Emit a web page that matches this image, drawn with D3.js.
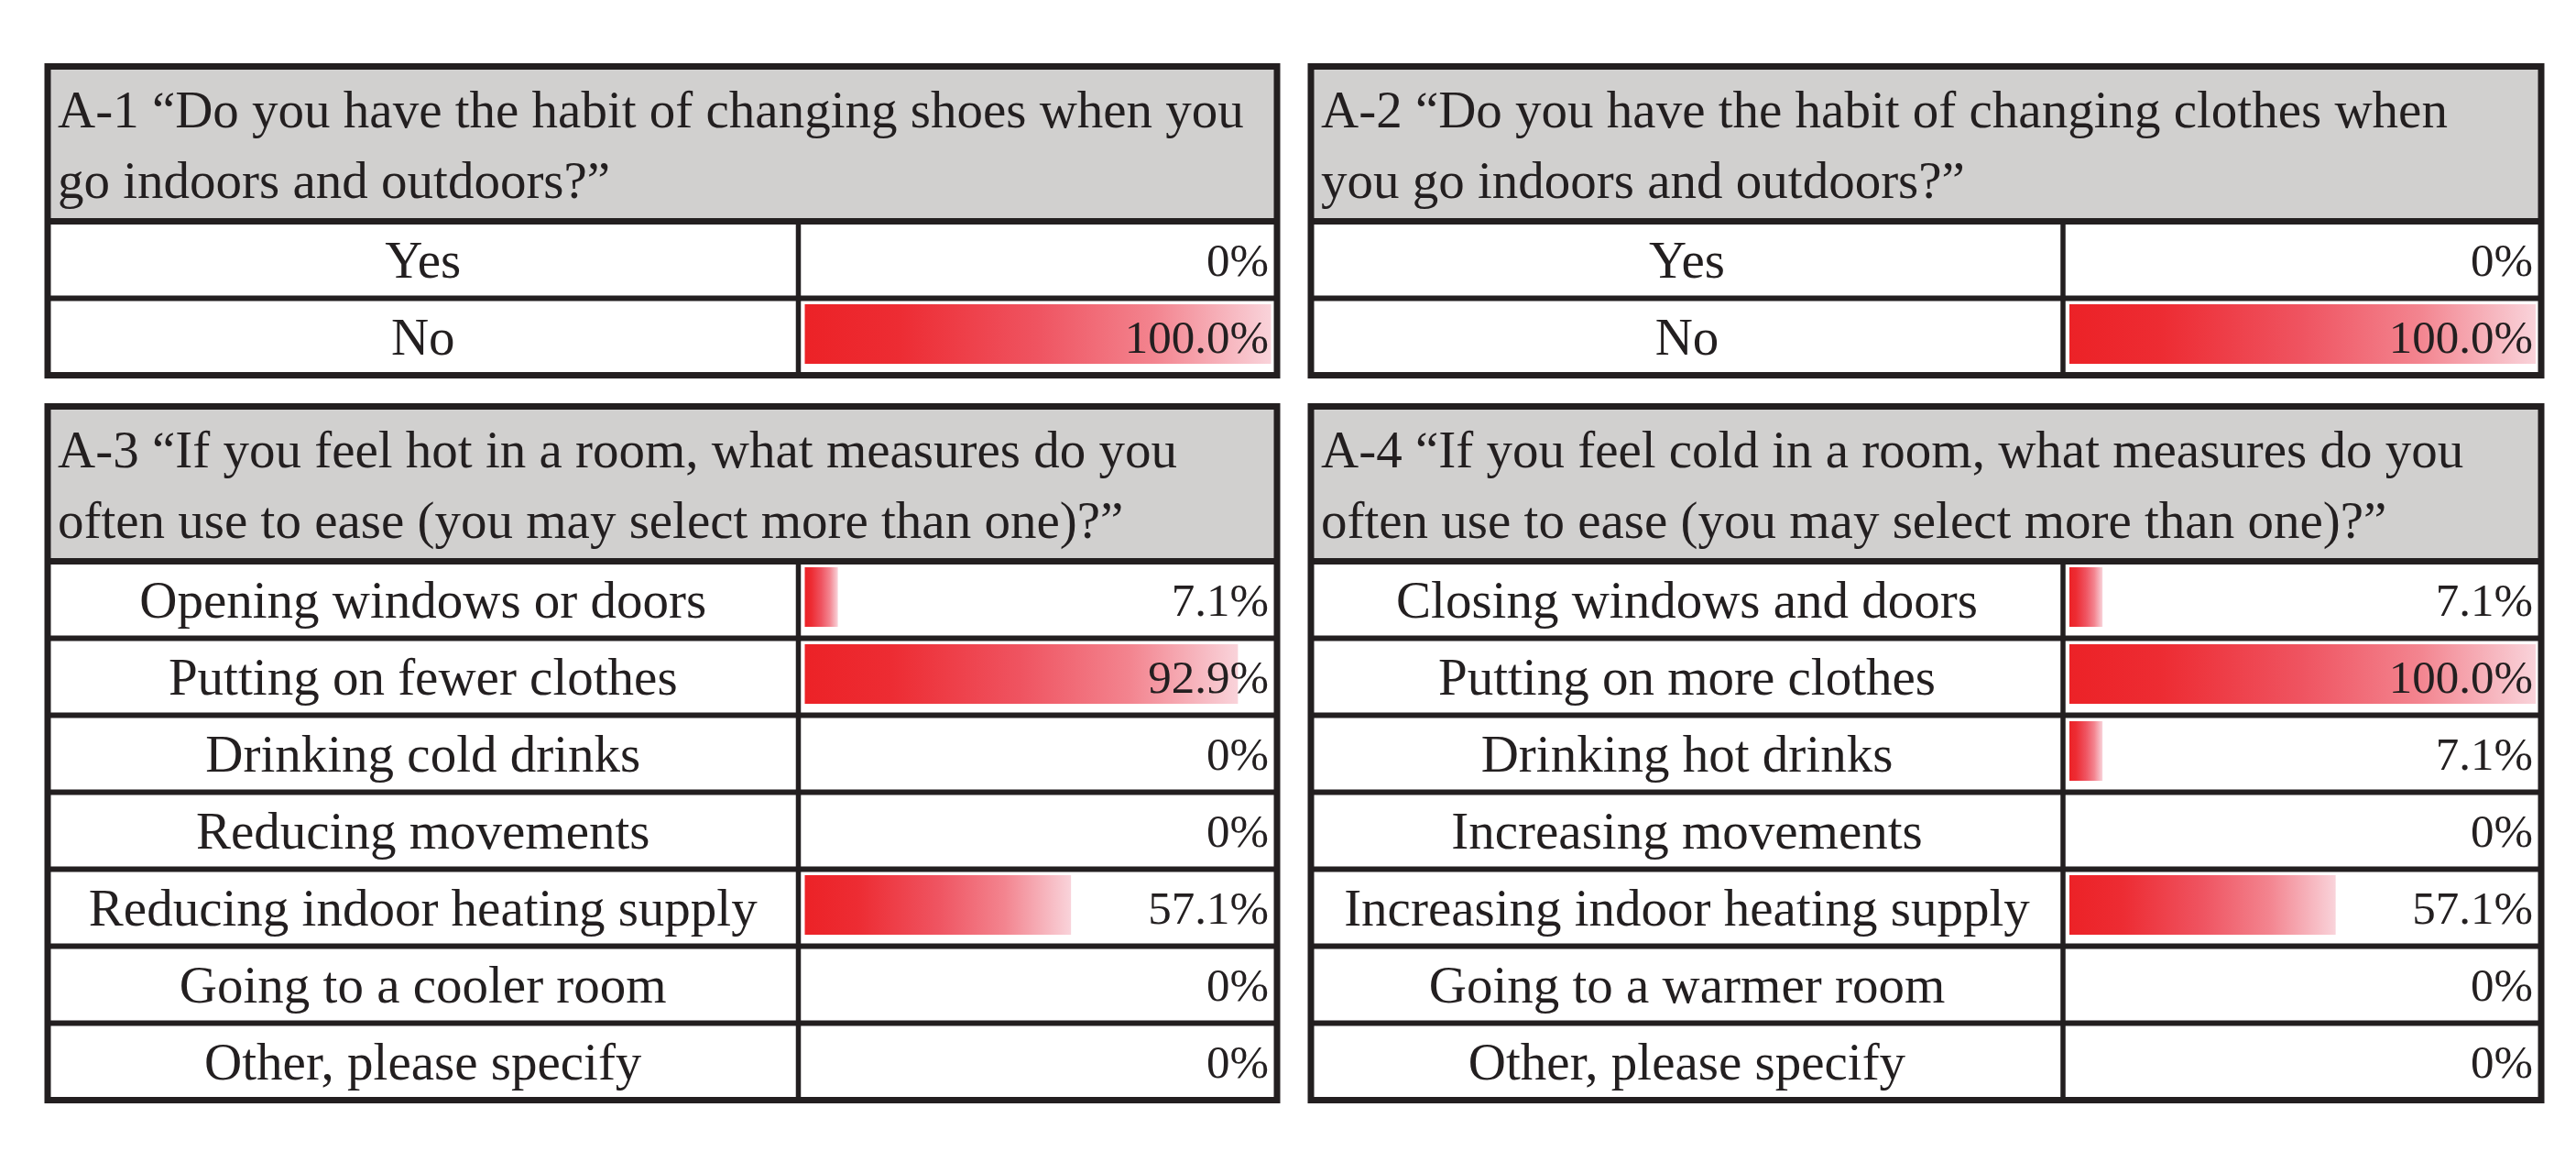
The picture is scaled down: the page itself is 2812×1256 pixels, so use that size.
<!DOCTYPE html>
<html lang="en">
<head>
<meta charset="UTF-8">
<title>Survey A-1 to A-4</title>
<script src="https://cdn.jsdelivr.net/npm/d3@7"></script>
<style>
  body { margin: 0; background: #fff; }
  svg { display: block; }
  text { font-family: "Liberation Serif", "Times New Roman", serif; fill: #231f20; }
</style>
</head>
<body>
<div id="root"></div>
<script>
// ---- data ----
const titlesA1 = ["A-1 \u201CDo you have the habit of changing shoes when you", "go indoors and outdoors?\u201D"]
const catsA1 = ["Yes", "No"]
const valsA1 = [0, 100.0]

const titlesA2 = ["A-2 \u201CDo you have the habit of changing clothes when", "you go indoors and outdoors?\u201D"]
const catsA2 = ["Yes", "No"]
const valsA2 = [0, 100.0]

const titlesA3 = ["A-3 \u201CIf you feel hot in a room, what measures do you", "often use to ease (you may select more than one)?\u201D"]
const catsA3 = ["Opening windows or doors", "Putting on fewer clothes", "Drinking cold drinks", "Reducing movements",
                "Reducing indoor heating supply", "Going to a cooler room", "Other, please specify"]
const valsA3 = [7.1, 92.9, 0, 0, 57.1, 0, 0]

const titlesA4 = ["A-4 \u201CIf you feel cold in a room, what measures do you", "often use to ease (you may select more than one)?\u201D"]
const catsA4 = ["Closing windows and doors", "Putting on more clothes", "Drinking hot drinks", "Increasing movements",
                "Increasing indoor heating supply", "Going to a warmer room", "Other, please specify"]
const valsA4 = [7.1, 100.0, 7.1, 0, 57.1, 0, 0]

// ---- layout ----
let width = 2812, height = 1256
let headerH = 169, rowH = 84
let ink = "#231f20"

let svg = d3.select("#root").append("svg").attr("width", width).attr("height", height)

let defs = svg.append("defs")
let grad = defs.append("linearGradient").attr("id", "barGrad")
  .attr("x1", "0%").attr("x2", "100%").attr("y1", "0%").attr("y2", "0%")
grad.selectAll("stop")
  .data([[0, "#ec2227"], [0.2, "#ed2c33"], [0.5, "#ef5461"], [0.75, "#f3848f"], [1, "#f9d3da"]])
  .join("stop")
  .attr("offset", d => d[0])
  .attr("stop-color", d => d[1])

function fmt(v) {
  return v === 0 ? "0%" : v.toFixed(1) + "%"
}

function renderPanel(x0, x1, xd, y0, titles, cats, vals) {
  let g = svg.append("g")
  let hdrBottom = y0 + headerH
  let y = d3.scaleBand().domain(cats).range([hdrBottom, hdrBottom + cats.length * rowH])
  let x = d3.scaleLinear().domain([0, 100]).range([xd + 7, xd + 7 + 509])
  let y1 = y.range()[1]

  // header
  g.append("rect").attr("x", x0).attr("y", y0).attr("width", x1 - x0).attr("height", headerH).attr("fill", "#d1d0cf")
  g.append("rect").attr("x", x0).attr("y", hdrBottom).attr("width", x1 - x0).attr("height", y1 - hdrBottom).attr("fill", "#fff")

  g.selectAll("text.title").data(titles).join("text").attr("class", "title")
    .attr("x", x0 + 11)
    .attr("y", (d, i) => y0 + 66 + i * 77)
    .attr("font-size", 57)
    .text(d => d)

  // bars
  let data = cats.map((c, i) => ({ cat: c, val: vals[i] }))
  g.selectAll("rect.bar").data(data.filter(d => d.val > 0)).join("rect").attr("class", "bar")
    .attr("x", x(0))
    .attr("y", d => y(d.cat) + 6.5)
    .attr("width", d => x(d.val) - x(0))
    .attr("height", 65)
    .attr("fill", "url(#barGrad)")

  // labels
  g.selectAll("text.label").data(data).join("text").attr("class", "label")
    .attr("x", (x0 + xd) / 2)
    .attr("y", d => y(d.cat) + rowH / 2 + 19)
    .attr("text-anchor", "middle")
    .attr("font-size", 57)
    .text(d => d.cat)

  g.selectAll("text.value").data(data).join("text").attr("class", "value")
    .attr("x", x1 - 9)
    .attr("y", d => y(d.cat) + rowH / 2 + 17)
    .attr("text-anchor", "end")
    .attr("font-size", 51)
    .text(d => fmt(d.val))

  // grid lines
  g.selectAll("line.row").data(cats.slice(1)).join("line").attr("class", "row")
    .attr("x1", x0).attr("x2", x1)
    .attr("y1", d => y(d)).attr("y2", d => y(d))
    .attr("stroke", ink).attr("stroke-width", 6)
  g.append("line").attr("x1", xd).attr("x2", xd).attr("y1", hdrBottom).attr("y2", y1)
    .attr("stroke", ink).attr("stroke-width", 5.5)
  g.append("line").attr("x1", x0).attr("x2", x1).attr("y1", hdrBottom).attr("y2", hdrBottom)
    .attr("stroke", ink).attr("stroke-width", 7)
  g.append("rect").attr("x", x0).attr("y", y0).attr("width", x1 - x0).attr("height", y1 - y0)
    .attr("fill", "none").attr("stroke", ink).attr("stroke-width", 7)
}

renderPanel(52, 1394, 871.5, 72.5, titlesA1, catsA1, valsA1)
renderPanel(1431, 2774, 2252, 72.5, titlesA2, catsA2, valsA2)
renderPanel(52, 1394, 871.5, 443.5, titlesA3, catsA3, valsA3)
renderPanel(1431, 2774, 2252, 443.5, titlesA4, catsA4, valsA4)
</script>
</body>
</html>
